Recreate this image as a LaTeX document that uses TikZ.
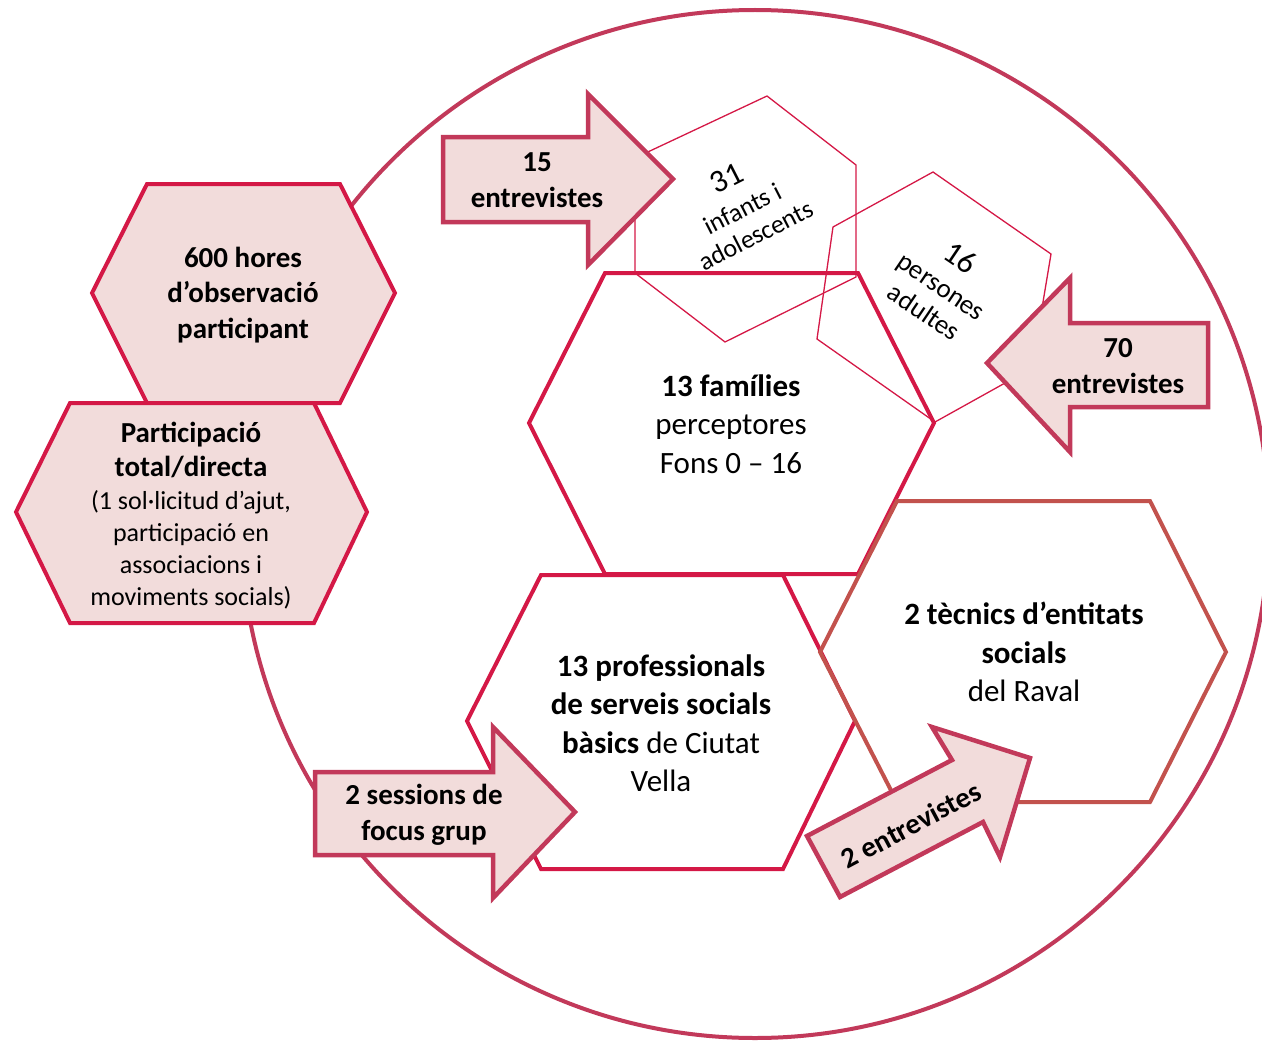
\documentclass[tikz,border=0pt]{standalone}
\usepackage{fontspec}
\setmainfont{Carlito}
\definecolor{hexred}{RGB}{212,24,70}
\definecolor{rose}{RGB}{194,57,90}
\definecolor{pinkfill}{RGB}{242,220,219}
\definecolor{brick}{RGB}{194,82,77}
\tikzset{
  hexfill/.style={draw=hexred, fill=pinkfill, line width=4pt, line join=miter},
  hexline/.style={draw=hexred, line width=4pt, line join=miter},
  hexbrick/.style={draw=brick, line width=4pt, line join=miter},
  hexthin/.style={draw=hexred, line width=1.3pt},
  blockarrow/.style={draw=rose, fill=pinkfill, line width=4.5pt, line join=miter},
  ringline/.style={draw=rose, line width=4pt},
  lblA/.style={align=center, inner sep=0pt, font=\fontsize{29}{35.5}\selectfont\bfseries},
  lblB/.style={align=center, inner sep=0pt, font=\fontsize{31}{38.5}\selectfont},
  lblS/.style={align=center, inner sep=0pt, font=\fontsize{26}{32}\selectfont},
}
\begin{document}
\begin{tikzpicture}[x=1pt,y=-1pt]
\useasboundingbox (0,0) rectangle (1262,1041);
% big ring
\draw[ringline] (755,524) circle[radius=514];
% pink hexagons
\draw[hexfill] (147,184) -- (340,184) -- (395,293) -- (340,403) -- (147,403) -- (92,293) -- cycle;
\draw[hexfill] (70,403) -- (314,403) -- (367,512) -- (314,623) -- (70,623) -- (16,512) -- cycle;
% white hexagons
\draw[hexline] (605,273) -- (858,273) -- (934,423) -- (858,574) -- (605,574) -- (529,423) -- cycle;
\draw[hexline] (541,575) -- (783,575) -- (855,721) -- (783,869) -- (541,869) -- (467,721) -- cycle;
\draw[hexbrick] (897,501) -- (1150,501) -- (1226,652) -- (1150,802) -- (897,802) -- (820,652) -- cycle;
% thin hexagons
\draw[hexthin] (767,96) -- (856,165) -- (856,277) -- (725,342) -- (635,273) -- (635,158) -- cycle;
\draw[hexthin] (933,172) -- (1051,254) -- (1032,368) -- (935,422) -- (817,339) -- (833,227) -- cycle;
% block arrows
\draw[blockarrow] (443,137) -- (588,137) -- (588,94) -- (673,179) -- (588,265) -- (588,222) -- (443,222) -- cycle;
\draw[blockarrow] (1208,323) -- (1070,323) -- (1070,278) -- (987,363) -- (1070,452) -- (1070,407) -- (1208,407) -- cycle;
\draw[blockarrow] (315,772) -- (493,772) -- (493,727) -- (575,812) -- (493,898) -- (493,855) -- (315,855) -- cycle;
\draw[blockarrow] (807,836) -- (952,760) -- (932,727) -- (1030,758) -- (1000,857) -- (983,822) -- (840,897) -- cycle;
% texts
\node[lblA] (obs) at (243,295) {600 hores\\d’observació\\participant};
\node[lblA, font=\fontsize{29}{34}\selectfont\bfseries] (part) at (191,450) {Participació\\total/directa};
\node[lblS] (partd) at (191,550) {(1 sol·licitud d’ajut,\\participació en\\associacions i\\moviments socials)};
\node[lblA] (e15) at (537,180) {15\\entrevistes};
\node[lblA] (e70) at (1118,366) {70\\entrevistes};
\node[lblA] (focus) at (424,815) {2 sessions de\\focus grup};
\node[lblA, rotate=28] (e2) at (911,825) {2 entrevistes};
\node[lblB] (fam) at (731,424) {\textbf{13 famílies}\\perceptores\\ Fons 0 – 16};
\node[lblB] (prof) at (661,723) {\textbf{13 professionals}\\\textbf{de serveis socials}\\\textbf{bàsics} de Ciutat\\Vella};
\node[lblB] (tec) at (1024,652) {\textbf{2 tècnics d’entitats}\\\textbf{socials}\\del Raval};
\node[align=center, inner sep=0pt, rotate=27, font=\fontsize{26}{30}\selectfont] (inf) at (741,206) {{\fontsize{32}{32}\selectfont 31}\\[3pt]infants i\\adolescents};
\node[align=center, inner sep=0pt, rotate=-34, font=\fontsize{27}{31}\selectfont] (adu) at (943,284) {{\fontsize{32}{32}\selectfont 16}\\[2pt]persones\\adultes};
\end{tikzpicture}
\end{document}
